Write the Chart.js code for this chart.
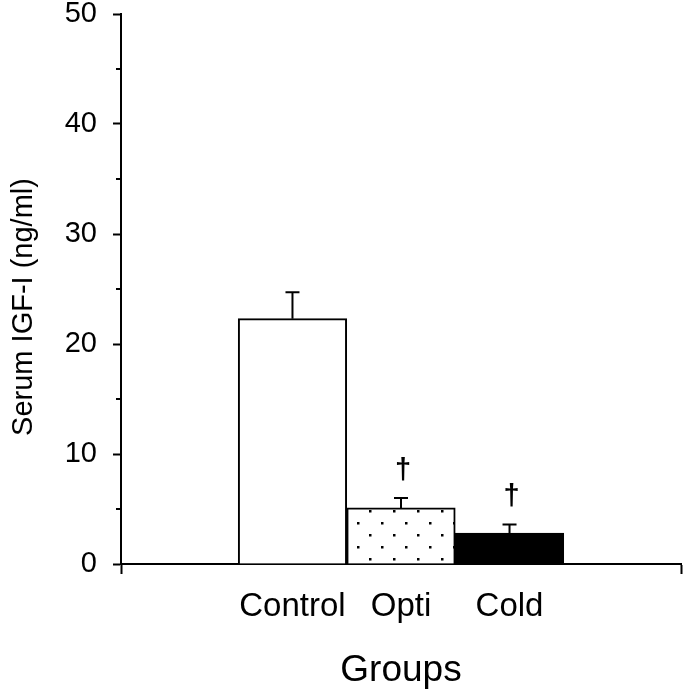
<!DOCTYPE html>
<html>
<head>
<meta charset="utf-8">
<script src="https://cdn.jsdelivr.net/npm/chart.js@4.4.1/dist/chart.umd.min.js"></script>
<style>
html, body { margin: 0; padding: 0; background: #fff; }
</style>
</head>
<body>
<canvas id="chart" width="685" height="697"></canvas>
<script>
// Dados
const groups = ['Control', 'Opti', 'Cold'];
const igfValues = [22.3, 5.1, 2.8];
const igfErrors = [2.4, 0.9, 0.8];
const sigMarks = ['', '\u2020', '\u2020'];
const yTicks = [0, 10, 20, 30, 40, 50];
const yMinorTicks = [5, 15, 25, 35, 45];
const yTitle = 'Serum IGF-I (ng/ml)';

const FONT = '"Liberation Sans", Arial, Helvetica, sans-serif';
Chart.defaults.font.family = FONT;
Chart.defaults.color = '#000';

const canvas = document.getElementById('chart');
const ctx = canvas.getContext('2d');

/**
 * Padrão pontilhado para a barra "Opti".
 */
function dotPattern() {
    const tile = document.createElement('canvas');
    tile.width = 24;
    tile.height = 24;
    const t = tile.getContext('2d');
    t.fillStyle = '#fff';
    t.fillRect(0, 0, 24, 24);
    t.fillStyle = '#000';
    t.fillRect(9, 6, 2.5, 2.5);
    t.fillRect(21, 18, 2.5, 2.5);
    return ctx.createPattern(tile, 'repeat');
}

const barColors = ['#ffffff', dotPattern(), '#000000'];

/**
 * Barras de erro, marcas de significância, ticks menores e título do eixo y.
 */
const errorBarPlugin = {
    id: 'errorBars',
    afterDatasetsDraw(chart) {
        const { ctx, chartArea, scales: { x, y } } = chart;
        const meta = chart.getDatasetMeta(0);
        ctx.save();
        ctx.strokeStyle = '#000';
        ctx.fillStyle = '#000';
        ctx.lineWidth = 2;
        meta.data.forEach((bar, i) => {
            const top = y.getPixelForValue(igfValues[i] + igfErrors[i]);
            ctx.beginPath();
            ctx.moveTo(bar.x, bar.y);
            ctx.lineTo(bar.x, top);
            ctx.moveTo(bar.x - 7, top);
            ctx.lineTo(bar.x + 7, top);
            ctx.stroke();
            if (sigMarks[i]) {
                ctx.font = 'bold 29px ' + FONT;
                ctx.textAlign = 'center';
                ctx.textBaseline = 'alphabetic';
                ctx.fillText(sigMarks[i], bar.x + 2, top - 19);
            }
        });
        ctx.beginPath();
        yMinorTicks.forEach(v => {
            const py = Math.round(y.getPixelForValue(v));
            ctx.moveTo(x.left - 5, py);
            ctx.lineTo(x.left, py);
        });
        ctx.stroke();

        // título do eixo y, um pouco abaixo do centro como no original
        ctx.translate(24, (chartArea.top + chartArea.bottom) / 2 + 18);
        ctx.rotate(-Math.PI / 2);
        ctx.font = '29px ' + FONT;
        ctx.textAlign = 'center';
        ctx.textBaseline = 'middle';
        ctx.fillText(yTitle, 0, 0);
        ctx.restore();
    }
};

new Chart(ctx, {
    type: 'bar',
    data: {
        datasets: [{
            data: groups.map((g, i) => ({ x: i + 1, y: igfValues[i] })),
            backgroundColor: barColors,
            borderColor: '#000',
            borderWidth: 2,
            barPercentage: 1,
            categoryPercentage: 1
        }]
    },
    options: {
        responsive: false,
        animation: false,
        devicePixelRatio: 1,
        layout: { padding: { top: 14, right: 4, left: 0, bottom: 0 } },
        plugins: {
            legend: { display: false },
            tooltip: { enabled: false }
        },
        scales: {
            x: {
                type: 'linear',
                offset: false,
                min: -0.58,
                max: 4.58,
                afterBuildTicks: scale => {
                    scale.ticks = [scale.min, 1, 2, 3, scale.max].map(v => ({ value: v }));
                },
                afterFit: scale => {
                    scale.height = 133;
                    scale.paddingLeft = 0;
                    scale.paddingRight = 0;
                },
                ticks: {
                    autoSkip: false,
                    maxRotation: 0,
                    padding: 13,
                    color: '#000',
                    font: { size: 33 },
                    callback: value => (Number.isInteger(value) && value >= 1 && value <= groups.length) ? groups[value - 1] : ''
                },
                grid: {
                    offset: false,
                    drawOnChartArea: false,
                    tickLength: 10,
                    tickWidth: 2,
                    tickColor: c => (c.tick && Number.isInteger(c.tick.value)) ? 'rgba(0,0,0,0)' : '#000'
                },
                border: { color: '#000', width: 2 },
                title: {
                    display: true,
                    text: 'Groups',
                    color: '#000',
                    font: { size: 37 },
                    padding: { top: 0, bottom: 4 }
                }
            },
            y: {
                min: 0,
                max: 50,
                afterBuildTicks: scale => {
                    scale.ticks = yTicks.map(v => ({ value: v }));
                },
                afterFit: scale => {
                    scale.width = 121;
                    scale.paddingTop = 0;
                    scale.paddingBottom = 0;
                },
                ticks: {
                    padding: 16,
                    color: '#000',
                    font: { size: 29 }
                },
                grid: {
                    drawOnChartArea: false,
                    tickLength: 8,
                    tickWidth: 2,
                    tickColor: '#000'
                },
                border: { color: '#000', width: 2 },
                title: { display: false }
            }
        }
    },
    plugins: [errorBarPlugin]
});
</script>
</body>
</html>
